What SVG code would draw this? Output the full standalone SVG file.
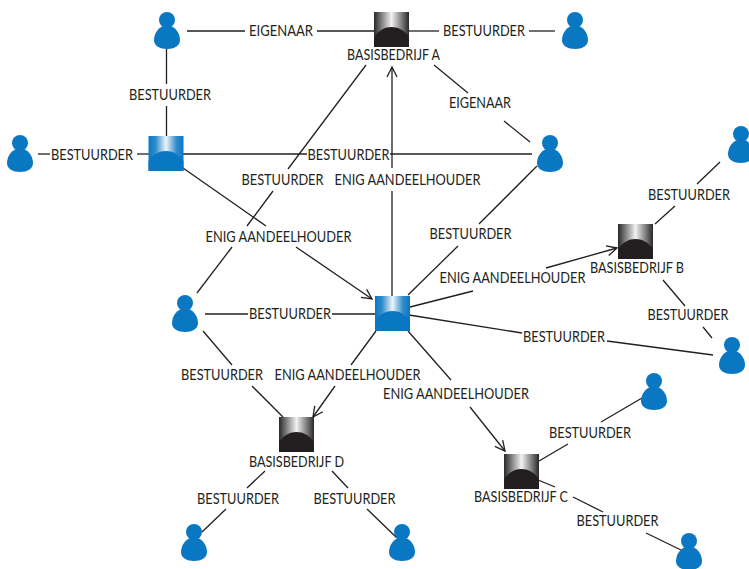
<svg xmlns="http://www.w3.org/2000/svg" width="749" height="569" viewBox="0 0 749 569">
<style>
text{font-family:"Lato","Open Sans","Liberation Sans",sans-serif;font-size:15px;fill:#231f20;text-anchor:middle}
.c line{stroke:#231f20;stroke-width:1.3;fill:none}
.p{fill:#0a77c2}
</style>
<defs>
<linearGradient id="gb" x1="0" x2="1" y1="0" y2="0"><stop offset="0" stop-color="#0a77c2"/><stop offset="0.2" stop-color="#2f8bcb"/><stop offset="0.5" stop-color="#eef3fa"/><stop offset="0.8" stop-color="#2f8bcb"/><stop offset="1" stop-color="#0a77c2"/></linearGradient>
<linearGradient id="gk" x1="0" x2="1" y1="0" y2="0"><stop offset="0" stop-color="#2a2728"/><stop offset="0.5" stop-color="#f2f2f2"/><stop offset="1" stop-color="#2a2728"/></linearGradient>
<marker id="a" markerUnits="userSpaceOnUse" viewBox="0 0 14 14" refX="12" refY="7" markerWidth="14" markerHeight="14" orient="auto"><path d="M2 2L12 7L2 12" fill="none" stroke="#231f20" stroke-width="1.3"/></marker>
<g id="person"><circle cx="0" cy="7" r="8"/><path d="M0 12C-8 13-13 20-13 27C-13 33-7 36 0 36C7 36 13 33 13 27C13 20 8 13 0 12Z"/></g>
<g id="bb"><rect width="35" height="35" fill="url(#gb)"/><path d="M0 35V25C5 18 11 15 17.500 15C24 15 30 18 35 25V35Z" fill="#0a77c2"/></g>
<g id="bk"><rect width="35" height="35" fill="url(#gk)"/><path d="M0 35V25C5 18 11 15 17.500 15C24 15 30 18 35 25V35Z" fill="#231f20"/></g>
</defs>
<g id="connectors" class="c">
<line x1="187" y1="31" x2="245" y2="31"/><line x1="317" y1="31" x2="374" y2="31"/><line x1="409" y1="31" x2="439" y2="31"/><line x1="529" y1="31" x2="555" y2="31"/>
<line x1="166.500" y1="49" x2="166.500" y2="84"/><line x1="166.500" y1="106" x2="166.500" y2="136"/>
<line x1="38" y1="154" x2="50" y2="154"/><line x1="137" y1="154" x2="149" y2="154"/><line x1="183" y1="154" x2="307" y2="154"/><line x1="390" y1="154" x2="532" y2="154"/>
<line x1="183" y1="168" x2="266" y2="226"/><line x1="296" y1="247" x2="372" y2="299" marker-end="url(#a)"/>
<line x1="197" y1="293" x2="232" y2="247"/><line x1="247" y1="226" x2="273" y2="191"/><line x1="288" y1="169" x2="366" y2="65"/>
<line x1="392" y1="296" x2="392" y2="191"/><line x1="392" y1="168" x2="392" y2="67" marker-end="url(#a)"/>
<line x1="434" y1="65" x2="468" y2="93"/><line x1="504" y1="121" x2="530" y2="142"/>
<line x1="537" y1="166" x2="479" y2="224"/><line x1="458" y1="246" x2="408" y2="295"/>
<line x1="410" y1="307" x2="473" y2="291"/><line x1="546" y1="268" x2="617" y2="248" marker-end="url(#a)"/>
<line x1="409" y1="315" x2="522" y2="333"/><line x1="607" y1="341" x2="713" y2="355"/>
<line x1="205" y1="314" x2="248" y2="314"/><line x1="332" y1="314" x2="375" y2="314"/>
<line x1="408" y1="331" x2="451" y2="380"/><line x1="470" y1="407" x2="505" y2="451" marker-end="url(#a)"/>
<line x1="376" y1="331" x2="351" y2="365"/><line x1="335" y1="386" x2="313" y2="417" marker-end="url(#a)"/>
<line x1="203" y1="331" x2="232" y2="365"/><line x1="252" y1="386" x2="283" y2="417"/>
<line x1="265" y1="471" x2="247" y2="488"/><line x1="226" y1="509" x2="202" y2="532"/><line x1="332" y1="471" x2="348" y2="488"/><line x1="367" y1="509" x2="397" y2="538"/>
<line x1="539" y1="461" x2="568" y2="444"/><line x1="601" y1="422" x2="642" y2="398"/>
<line x1="538" y1="480" x2="555" y2="487"/><line x1="573" y1="497" x2="603" y2="512"/><line x1="646" y1="533" x2="681" y2="550"/>
<line x1="655" y1="224" x2="675" y2="206"/><line x1="697" y1="184" x2="720" y2="162"/>
<line x1="663" y1="280" x2="685" y2="306"/><line x1="703" y1="327" x2="712" y2="338"/>
</g>
<g id="person1" class="p"><use href="#person" x="167" y="13"/></g>
<g id="person2" class="p"><use href="#person" x="575" y="13"/></g>
<g id="person3" class="p"><use href="#person" x="20" y="136"/></g>
<g id="person4" class="p"><use href="#person" x="550" y="136"/></g>
<g id="person5" class="p"><use href="#person" x="741" y="127"/></g>
<g id="person6" class="p"><use href="#person" x="185" y="296"/></g>
<g id="person7" class="p"><use href="#person" x="732" y="338"/></g>
<g id="person8" class="p"><use href="#person" x="654" y="374"/></g>
<g id="person9" class="p"><use href="#person" x="194" y="525"/></g>
<g id="person10" class="p"><use href="#person" x="402" y="525"/></g>
<g id="person11" class="p"><use href="#person" x="689" y="534"/></g>
<g id="holding1"><use href="#bb" x="148.500" y="136"/></g>
<g id="holding2"><use href="#bb" x="375" y="296"/></g>
<g id="basisA"><use href="#bk" x="374" y="12"/><text x="393.500" y="60" textLength="93" lengthAdjust="spacingAndGlyphs">BASISBEDRIJF A</text></g>
<g id="basisB"><use href="#bk" x="618" y="224"/><text x="637" y="273" textLength="94" lengthAdjust="spacingAndGlyphs">BASISBEDRIJF B</text></g>
<g id="basisC"><use href="#bk" x="504" y="454"/><text x="521" y="502" textLength="94" lengthAdjust="spacingAndGlyphs">BASISBEDRIJF C</text></g>
<g id="basisD"><use href="#bk" x="279" y="417"/><text x="296.500" y="467" textLength="95" lengthAdjust="spacingAndGlyphs">BASISBEDRIJF D</text></g>
<g id="labels">
<text x="281" y="36" textLength="64" lengthAdjust="spacingAndGlyphs">EIGENAAR</text>
<text x="484" y="36" textLength="82" lengthAdjust="spacingAndGlyphs">BESTUURDER</text>
<text x="170" y="100" textLength="82" lengthAdjust="spacingAndGlyphs">BESTUURDER</text>
<text x="480" y="108" textLength="62" lengthAdjust="spacingAndGlyphs">EIGENAAR</text>
<text x="92" y="160" textLength="82" lengthAdjust="spacingAndGlyphs">BESTUURDER</text>
<text x="348.500" y="160" textLength="82" lengthAdjust="spacingAndGlyphs">BESTUURDER</text>
<text x="282.500" y="185" textLength="82" lengthAdjust="spacingAndGlyphs">BESTUURDER</text>
<text x="407.500" y="185" textLength="146" lengthAdjust="spacingAndGlyphs">ENIG AANDEELHOUDER</text>
<text x="689" y="200" textLength="82" lengthAdjust="spacingAndGlyphs">BESTUURDER</text>
<text x="278.500" y="242" textLength="146" lengthAdjust="spacingAndGlyphs">ENIG AANDEELHOUDER</text>
<text x="470.500" y="239" textLength="82" lengthAdjust="spacingAndGlyphs">BESTUURDER</text>
<text x="512.500" y="283" textLength="146" lengthAdjust="spacingAndGlyphs">ENIG AANDEELHOUDER</text>
<text x="290" y="319" textLength="82" lengthAdjust="spacingAndGlyphs">BESTUURDER</text>
<text x="688" y="320" textLength="81" lengthAdjust="spacingAndGlyphs">BESTUURDER</text>
<text x="564" y="342" textLength="82" lengthAdjust="spacingAndGlyphs">BESTUURDER</text>
<text x="222" y="380" textLength="82" lengthAdjust="spacingAndGlyphs">BESTUURDER</text>
<text x="347.500" y="380" textLength="146" lengthAdjust="spacingAndGlyphs">ENIG AANDEELHOUDER</text>
<text x="456" y="399" textLength="146" lengthAdjust="spacingAndGlyphs">ENIG AANDEELHOUDER</text>
<text x="590" y="438" textLength="82" lengthAdjust="spacingAndGlyphs">BESTUURDER</text>
<text x="238" y="504" textLength="82" lengthAdjust="spacingAndGlyphs">BESTUURDER</text>
<text x="354.500" y="504" textLength="82" lengthAdjust="spacingAndGlyphs">BESTUURDER</text>
<text x="617.500" y="526" textLength="82" lengthAdjust="spacingAndGlyphs">BESTUURDER</text>
</g>
</svg>
